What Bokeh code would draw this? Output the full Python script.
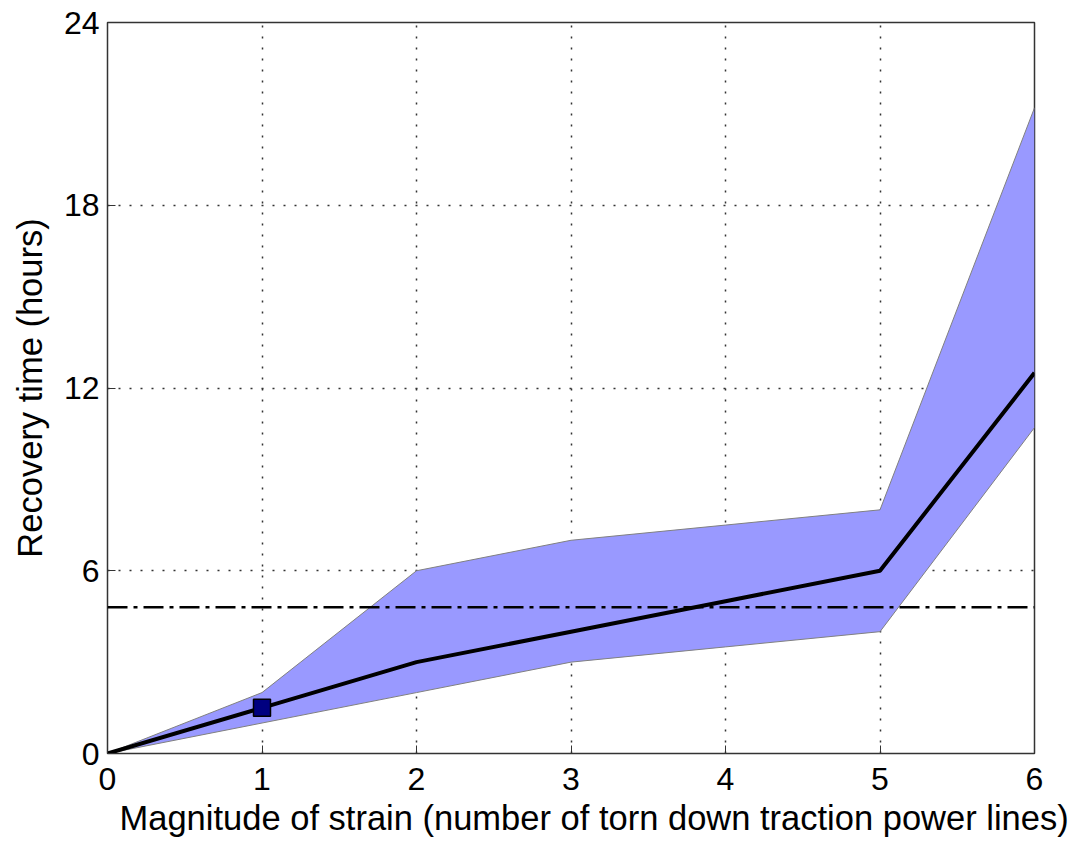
from bokeh.plotting import figure
from bokeh.models import Span, FixedTicker, Range1d, Title
from bokeh.embed import file_html
from bokeh.resources import INLINE

x = [0, 1, 2, 3, 4, 5, 6]
mean_time = [0, 1.5, 3.0, 4.0, 5.0, 6.0, 12.5]
upper_time = [0, 2.0, 6.0, 7.0, 7.5, 8.0, 21.2]
lower_time = [0, 1.0, 2.0, 3.0, 3.5, 4.0, 10.7]
threshold = 4.8
marker_x = [1]
marker_y = [1.5]
x_ticks = [0, 1, 2, 3, 4, 5, 6]
y_ticks = [0, 6, 12, 18, 24]
x_label = "Magnitude of strain (number of torn down traction power lines)"
y_label = "Recovery time (hours)"

FONT = "Liberation Sans"

p = figure(width=1078, height=841, output_backend="svg", toolbar_location=None,
           x_range=Range1d(0, 6), y_range=Range1d(0, 24),
           min_border_left=107, min_border_right=44, min_border_top=22, min_border_bottom=10)

p.varea(x=x, y1=lower_time, y2=upper_time, fill_color="#9999FF", fill_alpha=1.0)
p.line(x=x, y=upper_time, line_color="#808080", line_width=1)
p.line(x=x, y=lower_time, line_color="#808080", line_width=1)

p.add_layout(Span(location=threshold, dimension="width", line_color="black",
                  line_width=2.5, line_dash="20 6 4 6"))

p.line(x=x, y=mean_time, line_color="black", line_width=4)
p.scatter(x=marker_x, y=marker_y, marker="square", size=17, fill_color="#000080",
          line_color="black", line_width=1.5)

p.outline_line_color = "#333333"
p.outline_line_width = 1.5

p.xaxis.ticker = FixedTicker(ticks=x_ticks)
p.yaxis.ticker = FixedTicker(ticks=y_ticks)
p.yaxis.axis_label = y_label
for ax in (p.xaxis[0], p.yaxis[0]):
    ax.axis_label_text_font = FONT
    ax.axis_label_text_font_size = "34.5px"
    ax.axis_label_text_font_style = "normal"
    ax.axis_label_text_color = "black"
    ax.major_label_text_font = FONT
    ax.major_label_text_font_size = "32px"
    ax.major_label_text_color = "black"
    ax.axis_line_color = "#333333"
    ax.major_tick_in = 8
    ax.major_tick_out = 0
    ax.minor_tick_line_color = None
    ax.major_tick_line_color = "#333333"
p.xaxis.major_label_standoff = 14
p.yaxis.axis_label_standoff = 12
p.yaxis.major_label_standoff = 8

xt = Title(text=x_label, align="left", offset=12, text_font=FONT,
           text_font_size="34.5px", text_font_style="normal", text_color="black",
           standoff=9)
p.add_layout(xt, "below")

p.grid.grid_line_color = "#333333"
p.grid.grid_line_dash = "2 9"
p.grid.grid_line_width = 1.5
p.background_fill_color = "white"
p.border_fill_color = "white"

open("out.html", "w").write(file_html(p, INLINE))
